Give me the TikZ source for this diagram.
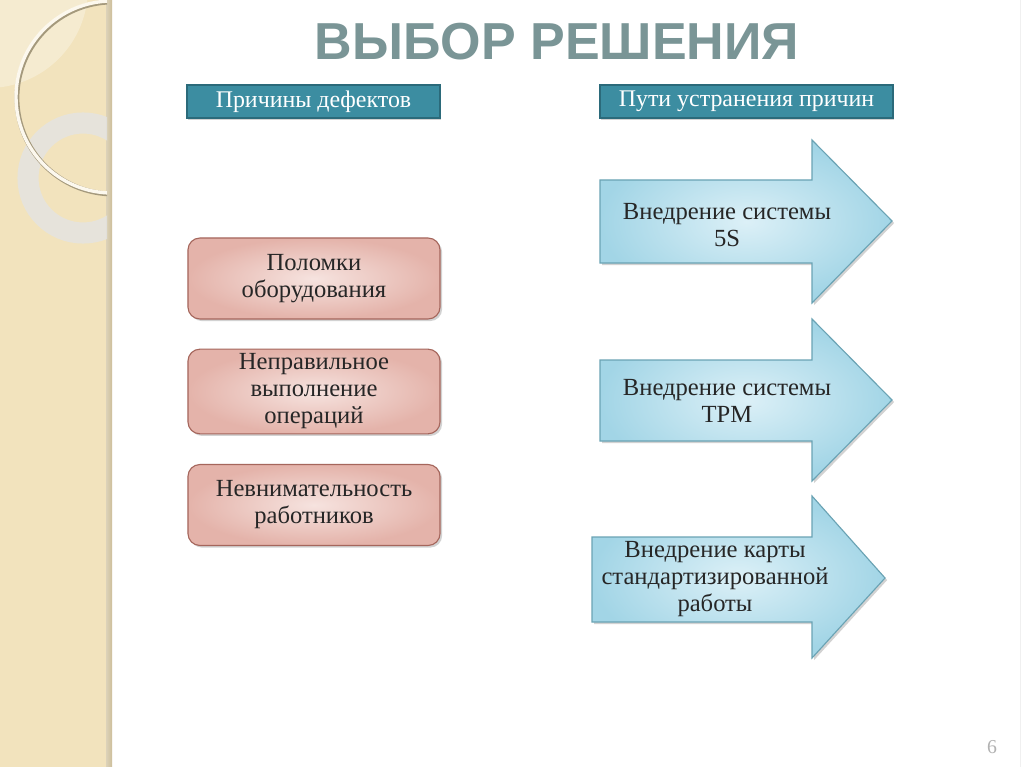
\documentclass[tikz,border=0pt]{standalone}
\usepackage{fontspec}
\setmainfont{Liberation Serif}
\newfontfamily\titlefont{Liberation Sans}
\usetikzlibrary{shadows}

\definecolor{stripbeige}{HTML}{F2E3BD}
\definecolor{stripedge}{HTML}{CDBF9B}
\definecolor{titlegray}{HTML}{7A9596}
\definecolor{headfill}{HTML}{3C8DA1}
\definecolor{headline}{HTML}{2B6A7A}
\definecolor{pinkout}{HTML}{E4B3AA}
\definecolor{pinkin}{HTML}{F6E3DF}
\definecolor{pinkline}{HTML}{A5665C}
\definecolor{blueout}{HTML}{A2D5E6}
\definecolor{bluein}{HTML}{DCF0F7}
\definecolor{blueline}{HTML}{6AA3B4}

\tikzset{
  headbox/.style={draw=headline, line width=1.2pt, fill=headfill, text=white,
    minimum height=0.825cm, font=\fontsize{17}{20}\selectfont,
    drop shadow={opacity=0.35, shadow xshift=0.5pt, shadow yshift=-1.5pt}},
  causebox/.style={draw=pinkline, line width=0.8pt, rounded corners=0.3cm,
    inner color=pinkin, outer color=pinkout,
    minimum width=6.3cm, minimum height=2.025cm,
    drop shadow={opacity=0.35, shadow xshift=1.5pt, shadow yshift=-1.5pt}},
  fixarrow/.style={draw=blueline, line width=0.8pt,
    inner color=bluein, outer color=blueout,
    drop shadow={opacity=0.35, shadow xshift=1.5pt, shadow yshift=-1.5pt}},
  boxtext/.style={align=center, text=black!85, font=\fontsize{17.5}{19.2}\selectfont}
}

\begin{document}
\begin{tikzpicture}[x=0.025cm, y=-0.025cm]
    \useasboundingbox (0,0) rectangle (1024,767);
    \fill[white] (0,0) rectangle (1024,767);
    % left strip with rings
    \fill[stripbeige] (0,0) rectangle (108,767);
    \shade[left color=stripedge!70, right color=stripedge] (106,0) rectangle (112,767);
    \begin{scope}
        \clip (0,0) rectangle (107,767);
        \fill[white, opacity=0.3] (-12,-12) circle (100);
        \draw[line width=15pt, gray!22, opacity=0.8] (83,178) circle (55);
        \draw[line width=3.4pt, stripedge!80!black] (113,98) circle (96);
        \draw[line width=2.4pt, white!75!stripbeige] (112,97) circle (96);
    \end{scope}
    \draw[gray!12, line width=0.6pt] (1020,0) -- (1020,767);
    % title
    \node[text=titlegray, font=\titlefont\bfseries\fontsize{37}{44}\selectfont] (title) at (557,42) {ВЫБОР РЕШЕНИЯ};
    % column heads
    \node[headbox, minimum width=6.325cm] (causes) at (313.5,101.5) {Причины дефектов};
    \node[headbox, minimum width=7.325cm] (remedies) at (746.5,101.5) {Пути устранения причин};
    % causes
    \node[causebox, boxtext] (breakdown) at (314,278.5) {Поломки\\оборудования};
    \node[causebox, boxtext] (wrongops) at (314,391.5) {Неправильное\\выполнение\\операций};
    \node[causebox, boxtext] (careless) at (314,505) {Невнимательность\\работников};
    % remedies
    \path[fixarrow] (600,180) -- (812,180) -- (812,140) -- (892,221) -- (812,303) -- (812,263) -- (600,263) -- cycle;
    \node[boxtext] (fivesys) at (727,225) {Внедрение системы\\5S};
    \path[fixarrow] (600,360) -- (812,360) -- (812,319) -- (892,400) -- (812,481) -- (812,441) -- (600,441) -- cycle;
    \node[boxtext] (tpmsys) at (727,400.5) {Внедрение системы\\TPM};
    \path[fixarrow] (592,537) -- (812,537) -- (812,496) -- (885,578) -- (812,658) -- (812,622) -- (592,622) -- cycle;
    \node[boxtext] (stdcard) at (715,579) {Внедрение карты\\стандартизированной\\работы};
    % page number
    \node[text=gray!60, font=\fontsize{14}{16}\selectfont] (pagenum) at (992,747) {6};
\end{tikzpicture}
\end{document}
